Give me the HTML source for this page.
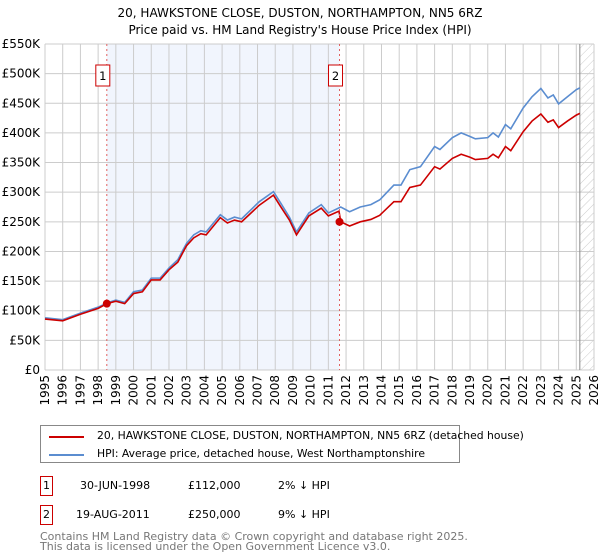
<!DOCTYPE html>
<html><head><meta charset="utf-8"><style>
body{margin:0;background:#fff;font-family:"DejaVu Sans","Liberation Sans",sans-serif;}
#wrap{position:relative;width:600px;height:560px;overflow:hidden}
.t{position:absolute;font-size:11px;color:#000;white-space:nowrap}
svg text{font-family:"DejaVu Sans","Liberation Sans",sans-serif}
</style></head><body><div id="wrap">
<svg id="chart" width="600" height="420" style="position:absolute;left:0;top:0">
<defs><pattern id="hatch" width="6" height="6" patternUnits="userSpaceOnUse" patternTransform="rotate(45)"><line x1="0" y1="0" x2="0" y2="6" stroke="#ccc" stroke-width="1"/></pattern></defs>
<text x="300" y="17" text-anchor="middle" font-size="12">20, HAWKSTONE CLOSE, DUSTON, NORTHAMPTON, NN5 6RZ</text>
<text x="300" y="34" text-anchor="middle" font-size="12">Price paid vs. HM Land Registry's House Price Index (HPI)</text>
<g id="g"></g>
</svg>
<div style="position:absolute;left:40px;top:425px;width:418px;height:36px;border:1px solid #888">
<div style="position:absolute;left:8px;top:10px;width:35px;height:2px;background:#cc0000"></div>
<div class="t" style="left:56px;top:3px;font-size:10.8px">20, HAWKSTONE CLOSE, DUSTON, NORTHAMPTON, NN5 6RZ (detached house)</div>
<div style="position:absolute;left:8px;top:28px;width:35px;height:2px;background:#5b8dd0"></div>
<div class="t" style="left:56px;top:21px;font-size:10.8px">HPI: Average price, detached house, West Northamptonshire</div>
</div>
<div style="position:absolute;left:40px;top:476px;width:11px;height:18px;border:1px solid #c00;font-size:11px;text-align:center;line-height:18px">1</div>
<div class="t" style="left:80px;top:479px">30-JUN-1998</div>
<div class="t" style="left:188px;top:479px">£112,000</div>
<div class="t" style="left:278px;top:479px">2% ↓ HPI</div>
<div style="position:absolute;left:40px;top:505px;width:11px;height:18px;border:1px solid #c00;font-size:11px;text-align:center;line-height:18px">2</div>
<div class="t" style="left:76px;top:508px">19-AUG-2011</div>
<div class="t" style="left:188px;top:508px">£250,000</div>
<div class="t" style="left:278px;top:508px">9% ↓ HPI</div>
<div class="t" style="left:40px;top:532px;color:#777;line-height:10px">Contains HM Land Registry data © Crown copyright and database right 2025.<br>This data is licensed under the Open Government Licence v3.0.</div>
</div>
<script>
const yTicks=[0,50,100,150,200,250,300,350,400,450,500,550];
const xYears=[1995,1996,1997,1998,1999,2000,2001,2002,2003,2004,2005,2006,2007,2008,2009,2010,2011,2012,2013,2014,2015,2016,2017,2018,2019,2020,2021,2022,2023,2024,2025,2026];
const hpiYears=[1995,1996,1997,1998,1998.5,1999,1999.5,2000,2000.5,2001,2001.5,2002,2002.5,2002.8,2003,2003.4,2003.8,2004.1,2004.9,2005.3,2005.7,2006.1,2007.1,2007.9,2008.3,2008.8,2009.2,2009.9,2010.6,2011.0,2011.7,2012.2,2012.8,2013.4,2013.9,2014.7,2015.1,2015.6,2016.2,2017,2017.3,2018,2018.5,2019,2019.3,2020,2020.3,2020.6,2021,2021.3,2022,2022.5,2023,2023.4,2023.7,2024,2024.5,2025,2025.2];
const hpiValues=[88,85,96,106,113,118,114,132,135,155,155,172,186,203,214,228,235,233,262,253,258,255,284,301,282,258,233,265,279,265,275,267,275,279,287,312,312,338,343,377,372,392,400,394,390,392,400,393,414,407,442,461,475,459,464,449,461,473,476];
const redYears=[1995,1996,1997,1998,1998.5,1999,1999.5,2000,2000.5,2001,2001.5,2002,2002.5,2002.8,2003,2003.4,2003.8,2004.1,2004.9,2005.3,2005.7,2006.1,2007.1,2007.9,2008.3,2008.8,2009.2,2009.9,2010.6,2011.0,2011.6,2011.7,2012.2,2012.8,2013.4,2013.9,2014.7,2015.1,2015.6,2016.2,2017,2017.3,2018,2018.5,2019,2019.3,2020,2020.3,2020.6,2021,2021.3,2022,2022.5,2023,2023.4,2023.7,2024,2024.5,2025,2025.2];
const redValues=[86,83,94,104,112,116,112,129,132,152,152,169,182,199,210,223,230,228,257,248,253,250,278,295,276,253,228,260,273,260,268,250,243,250,254,261,284,284,308,312,343,339,357,364,359,355,357,364,358,377,370,402,420,432,418,422,409,420,430,433];
const saleYears=[1998.49,2011.63];
const saleValues=[112,250];
const saleLabels=["1","2"];
const X=y=>45+(y-1995)*(549/31);
const Y=v=>370-v*(326/550);
const NS="http://www.w3.org/2000/svg";
const g=document.getElementById('g');
function mk(t,a,p){const e=document.createElementNS(NS,t);for(const k in a)e.setAttribute(k,a[k]);(p||g).appendChild(e);return e;}
let r=mk('rect',{x:X(saleYears[0]),y:Y(550),width:X(saleYears[1])-X(saleYears[0]),height:Y(0)-Y(550),fill:'#eef3fc',opacity:0.8});


r=mk('rect',{x:X(2025.2),y:Y(550),width:X(2026)-X(2025.2),height:Y(0)-Y(550),fill:'url(#hatch)'});


yTicks.forEach(v=>{let l=mk('line',{x1:45,x2:594,y1:Y(v),y2:Y(v),stroke:'#ccc'});


let t=mk('text',{x:40,y:Y(v)+4,'text-anchor':'end','font-size':12});t.textContent=v===0?'£0':'£'+v+'K';

});
xYears.forEach(yr=>{let l=mk('line',{x1:X(yr),x2:X(yr),y1:Y(550),y2:Y(0),stroke:'#ccc'});


let t=mk('text',{x:0,y:0,'text-anchor':'end','font-size':12,transform:`translate(${X(yr)+4},375) rotate(-90)`});t.textContent=yr;

});
let el=mk('line',{x1:X(2025.2),x2:X(2025.2),y1:Y(550),y2:Y(0),stroke:'#888'});


let p=mk('polyline',{points:hpiYears.map((y,i)=>X(y)+','+Y(hpiValues[i])).join(' '),fill:'none',stroke:'#5b8dd0','stroke-width':1.6});


p=mk('polyline',{points:redYears.map((y,i)=>X(y)+','+Y(redValues[i])).join(' '),fill:'none',stroke:'#cc0000','stroke-width':1.6});


saleYears.forEach((yr,i)=>{let l=mk('line',{x1:X(yr),x2:X(yr),y1:Y(550),y2:Y(0),stroke:'#e06060','stroke-dasharray':'2,3'});


let c=mk('circle',{cx:X(yr),cy:Y(saleValues[i]),r:4,fill:'#cc0000'});


let b=mk('rect',{x:X(yr)-11,y:65,width:14,height:21,fill:'#fff',stroke:'#c00'});


let t=mk('text',{x:X(yr)-4,y:80,'text-anchor':'middle','font-size':11.5});t.textContent=saleLabels[i];

});
</script>
</body></html>
